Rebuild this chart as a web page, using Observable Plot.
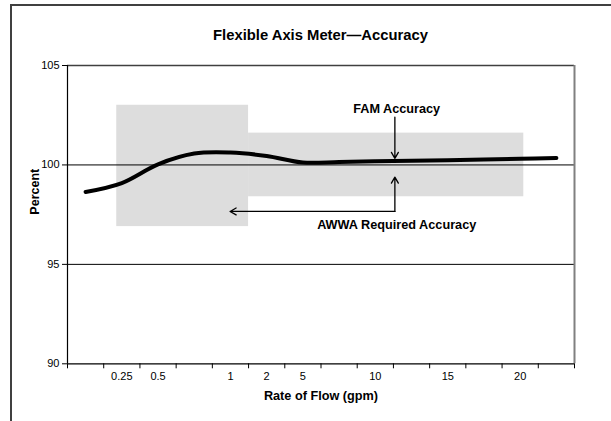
<!DOCTYPE html>
<html>
<head>
<meta charset="utf-8">
<script src="https://cdn.jsdelivr.net/npm/d3@7"></script>
<script src="https://cdn.jsdelivr.net/npm/@observablehq/plot@0.6"></script>
<style>
  html, body { margin: 0; padding: 0; background: #fff; }
  #wrap { position: relative; width: 611px; height: 421px; overflow: hidden; font-family: "Liberation Sans", Arial, sans-serif; }
  #frame { position: absolute; left: 10px; top: 4px; width: 620px; height: 440px; border-left: 2px solid #404040; border-top: 2px solid #404040; }
  #title { position: absolute; left: 67px; width: 507px; top: 27px; text-align: center; font-weight: bold; font-size: 14.8px; line-height: 17px; color: #000; }
  #chart { position: absolute; left: 0; top: 45px; }
  #chart svg { overflow: visible; }
</style>
</head>
<body>
<div id="wrap">
  <div id="frame"></div>
  <div id="title">Flexible Axis Meter—Accuracy</div>
  <div id="chart"></div>
</div>
<script>
// Category axis (Rate of Flow, gpm) – blank entries are unlabeled categories
const categories = ["", "0.25", "0.5", "", "1", "2", "5", "", "10", "", "15", "", "20", ""];
// FAM accuracy (percent) at each category
const accuracy = [98.64, 99.09, 100.03, 100.57, 100.62, 100.45, 100.12, 100.15, 100.18, 100.21, 100.24, 100.27, 100.31, 100.35];
// Y tick values
const yTicks = [90, 95, 100, 105];
// AWWA required accuracy bands (category units on x, percent on y)
const bandFrom = [1.36, 5.0];
const bandTo = [5.0, 12.6];
const bandLow = [96.9, 98.4];
const bandHigh = [103.0, 101.6];

const bands = bandFrom.map((f, i) => ({from: f, to: bandTo[i], lo: bandLow[i], hi: bandHigh[i]}));
const series = accuracy.map((v, i) => ({cat: i + 0.5, value: v}));
const labelPositions = categories.map((c, i) => c ? i + 0.5 : null).filter(d => d !== null);

// annotation arrows and labels
const arrows = [
  {x1: 9.04, y1: 102.4, x2: 9.04, y2: 100.33},
  {x1: 9.04, y1: 97.66, x2: 9.04, y2: 99.39},
  {x1: 9.04, y1: 97.66, x2: 4.49, y2: 97.66}
];
const notes = [
  {x: 9.09, y: 102.8, text: "FAM Accuracy"},
  {x: 9.09, y: 97.0, text: "AWWA Required Accuracy"}
];

const chart = Plot.plot({
  width: 611,
  height: 376,
  marginLeft: 67,
  marginRight: 37,
  marginTop: 20,
  marginBottom: 57.7,
  x: {domain: [0, categories.length]},
  y: {domain: [90, 105]},
  style: {fontFamily: '"Liberation Sans", Arial, sans-serif', fontSize: "11px", color: "black", background: "transparent"},
  marks: [
    Plot.rect(bands, {x1: "from", x2: "to", y1: "lo", y2: "hi", fill: "#dddddd"}),
    Plot.ruleY([95, 100], {stroke: "black", strokeWidth: 1}),
    Plot.ruleY([105], {stroke: "#404040", strokeWidth: 1.5}),
    Plot.ruleX([categories.length], {stroke: "#808080", strokeWidth: 2}),
    Plot.ruleX([0], {stroke: "black", strokeWidth: 1.2}),
    Plot.ruleY([90], {stroke: "black", strokeWidth: 1.2}),
    Plot.axisY(yTicks, {tickSize: 5, tickPadding: 3, label: null, fontSize: 11}),
    Plot.axisX(d3.range(categories.length + 1), {tickSize: 5, tickFormat: () => "", label: null}),
    Plot.axisX(labelPositions, {tickSize: 0, tickPadding: 8, tickFormat: d => categories[Math.floor(d)], label: null, fontSize: 11}),
    Plot.line(series, {x: "cat", y: "value", curve: "catmull-rom", stroke: "black", strokeWidth: 4}),
    Plot.arrow(arrows, {x1: "x1", y1: "y1", x2: "x2", y2: "y2", stroke: "black", strokeWidth: 1.3, headLength: 8}),
    Plot.text(notes, {x: "x", y: "y", text: "text", fontWeight: "bold", fontSize: 12.7, fill: "black"}),
    Plot.text(["Percent"], {frameAnchor: "left", rotate: -90, dx: -33, fontWeight: "bold", fontSize: 12.5, fill: "black"}),
    Plot.text(["Rate of Flow (gpm)"], {frameAnchor: "bottom", dy: 36, fontWeight: "bold", fontSize: 12.7, fill: "black"})
  ]
});
document.getElementById("chart").appendChild(chart);
</script>
</body>
</html>
